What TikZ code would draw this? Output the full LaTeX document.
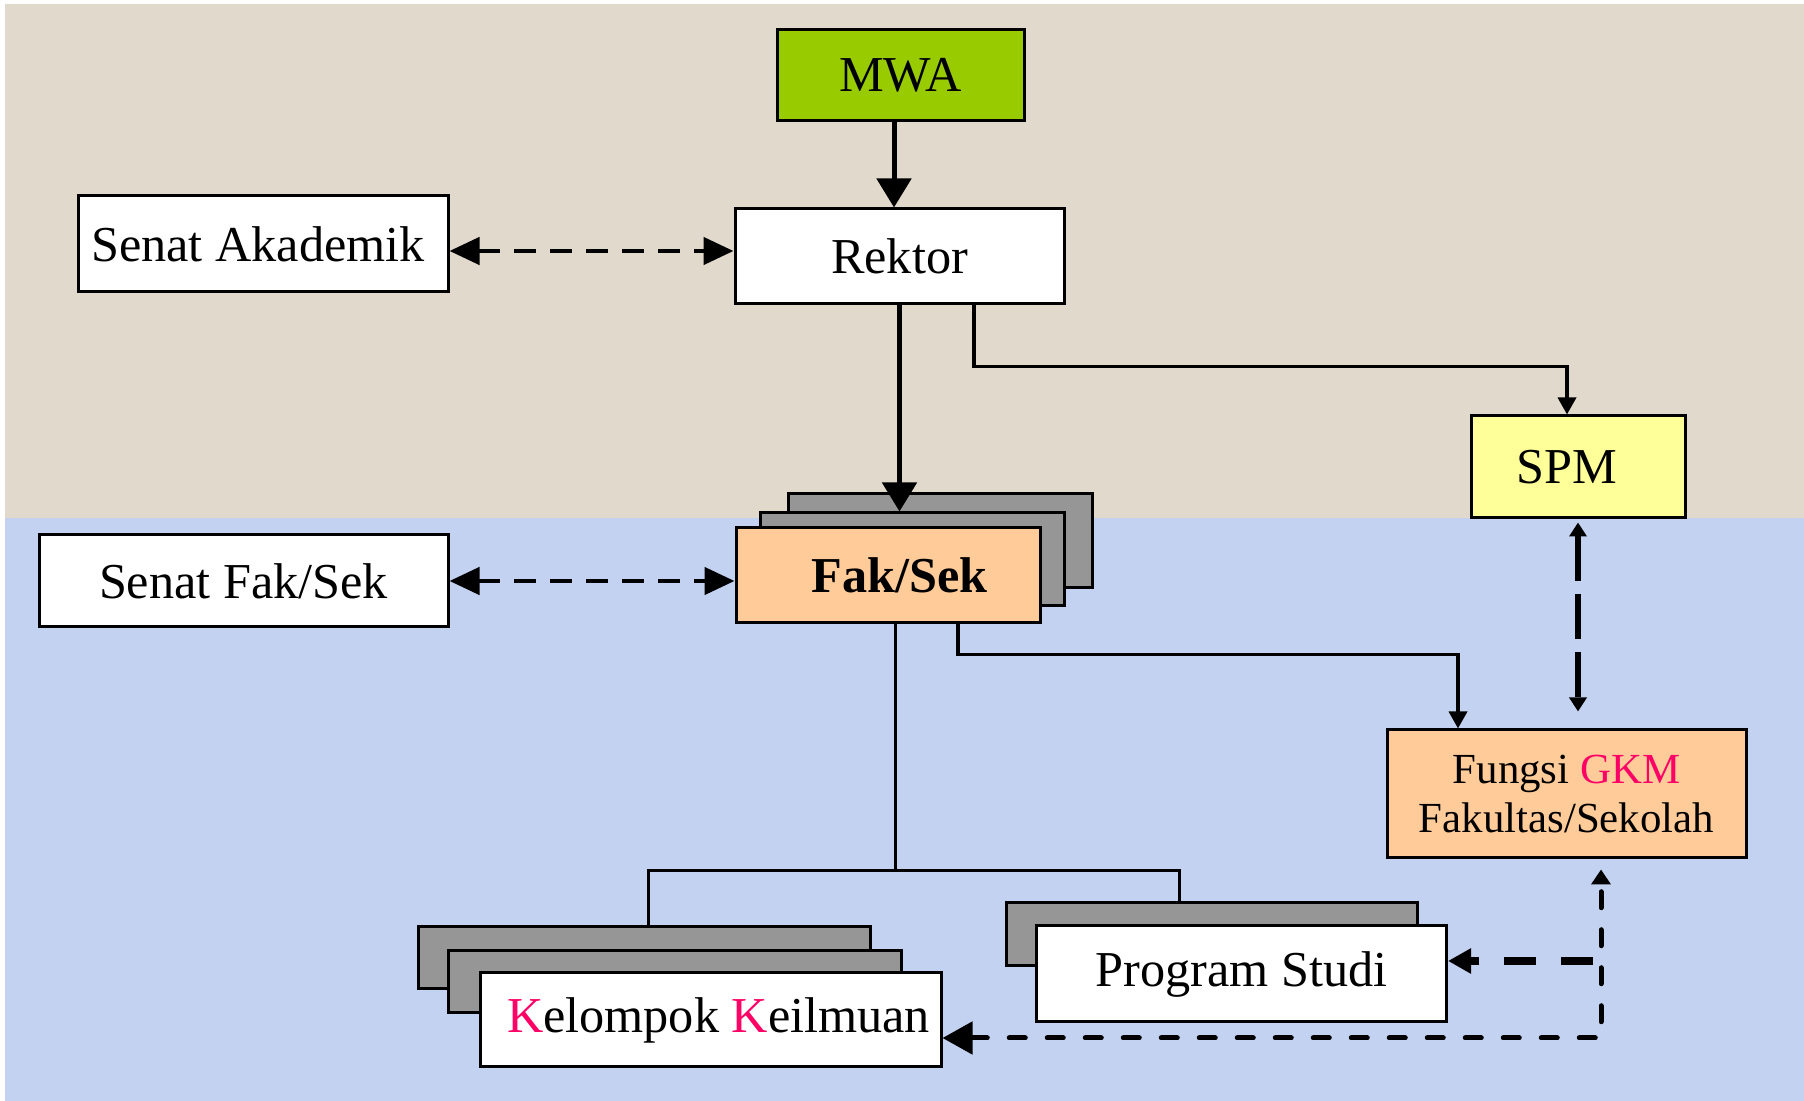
\documentclass[tikz,border=0pt]{standalone}
\usepackage{fontspec}
\setmainfont{Liberation Serif}
\usepackage{xcolor}
\usepackage{tikz}
\usetikzlibrary{arrows.meta,positioning}

\definecolor{bgsand}{HTML}{E1D9CB}
\definecolor{bgsky}{HTML}{C4D2F2}
\definecolor{mwagreen}{HTML}{99CC00}
\definecolor{spmyellow}{HTML}{FFFF99}
\definecolor{fakorange}{HTML}{FFCC99}
\definecolor{stackgray}{HTML}{969696}
\definecolor{gkmpink}{HTML}{FF0066}

\begin{document}
\begin{tikzpicture}[
    unit/.style={rectangle, draw, line width=0.03cm, fill=white, inner sep=0pt, align=center, font=\fontsize{14.3}{17}\selectfont},
    stack/.style={rectangle, draw, line width=0.03cm, fill=stackgray, inner sep=0pt},
    arrow/.style={line width=0.05cm, -{Triangle[length=0.29cm,width=0.34cm]}},
    link/.style={line width=0.035cm, -{Triangle[length=0.17cm,width=0.18cm]}},
    tree/.style={line width=0.03cm},
    coord/.style={line width=0.045cm, dash pattern=on 0.22cm off 0.14cm, {Triangle[length=0.3cm,width=0.27cm]}-{Triangle[length=0.3cm,width=0.27cm]}},
    quality/.style={line width=0.06cm, dash pattern=on 0.45cm off 0.13cm, {Triangle[length=0.14cm,width=0.17cm]}-{Triangle[length=0.14cm,width=0.17cm]}},
    dotlink/.style={line width=0.05cm, line cap=round, dash pattern=on 0.16cm off 0.22cm, {Triangle[length=0.3cm,width=0.32cm]}-{Triangle[length=0.15cm,width=0.19cm]}},
    boldlink/.style={line width=0.08cm, dash pattern=on 0.32cm off 0.25cm, -{Triangle[length=0.23cm,width=0.24cm]}}
]

% Background bands
\fill[bgsand] (0.05,-0.04) rectangle (18.04,-5.18);
\fill[bgsky] (0.05,-5.18) rectangle (18.04,-11.01);
\useasboundingbox (0,0) rectangle (18.04,-11.01);

% University level
\node[unit, fill=mwagreen, minimum width=2.47cm, minimum height=0.91cm] (mwa) at (9.005,-0.755) {MWA};
\node[unit, minimum width=3.29cm, minimum height=0.95cm] (rektor) at (8.995,-2.565) {Rektor};
\node[unit, minimum width=3.70cm, minimum height=0.96cm] (senatak) at (2.63,-2.44) {Senat Akademik\hspace*{0.1cm}};
\node[unit, fill=spmyellow, minimum width=2.14cm, minimum height=1.02cm] (spm) at (15.78,-4.67) {SPM\hspace*{0.23cm}};

% Faculty level
\node[unit, minimum width=4.09cm, minimum height=0.92cm] (senatfak) at (2.435,-5.81) {Senat Fak/Sek};
\node[stack, minimum width=3.04cm, minimum height=0.94cm] (fak2) at (9.40,-5.41) {};
\node[stack, minimum width=3.04cm, minimum height=0.93cm] (fak1) at (9.12,-5.595) {};
\node[unit, fill=fakorange, minimum width=3.04cm, minimum height=0.95cm, font=\fontsize{14.3}{17}\selectfont\bfseries] (fak) at (8.88,-5.755) {\hspace*{0.23cm}Fak/Sek};
\node[unit, fill=fakorange, minimum width=3.59cm, minimum height=1.28cm, font=\fontsize{12.2}{14.2}\selectfont] (gkm) at (15.665,-7.94) {
    Fungsi \textcolor{gkmpink}{GKM}\\
    Fakultas/Sekolah
};

% Study level
\node[stack, minimum width=4.52cm, minimum height=0.62cm] (kk2) at (6.44,-9.58) {};
\node[stack, minimum width=4.53cm, minimum height=0.62cm] (kk1) at (6.745,-9.82) {};
\node[unit, minimum width=4.61cm, minimum height=0.94cm] (kk) at (7.105,-10.20) {\hspace*{0.16cm}\textcolor{gkmpink}{K}elompok \textcolor{gkmpink}{K}eilmuan};
\node[stack, minimum width=4.11cm, minimum height=0.63cm] (ps2) at (12.115,-9.345) {};
\node[unit, minimum width=4.10cm, minimum height=0.96cm] (ps) at (12.415,-9.74) {Program Studi};

% Line of command
\draw[arrow] ([xshift=-0.065cm]mwa.south) -- ([xshift=-0.065cm]mwa.south |- rektor.north);
\draw[arrow] (rektor.south) -- (rektor.south |- fak1.north);
\draw[link] ([xshift=0.745cm]rektor.south) -- ++(0,-0.61) -| ([xshift=-0.11cm]spm.north);
\draw[link] ([xshift=0.70cm]fak.south) -- ++(0,-0.30) -| ([xshift=-1.085cm]gkm.north);

% Senates
\draw[coord] ([yshift=-0.07cm]senatak.east) -- ([yshift=-0.07cm]senatak.east -| rektor.west);
\draw[coord] (senatfak.east) -- (senatfak.east -| fak.west);

% Quality assurance
\draw[quality] ([yshift=-0.03cm]spm.south) -- ([yshift=0.17cm]spm.south |- gkm.north);
\coordinate (gkmdrop) at ([xshift=0.345cm]gkm.south);
\draw[dotlink] ([yshift=-0.18cm]kk.east) -| ([yshift=-0.1cm]gkmdrop);
\draw[boldlink] ([xshift=-0.08cm,yshift=0.13cm]ps.east -| gkmdrop) -- ([yshift=0.13cm]ps.east);

% Faculty tree
\draw[tree] ([xshift=0.07cm]fak.south) -- ++(0,-2.46) coordinate (hub);
\draw[tree] ([xshift=0.04cm]kk2.north) |- (hub) -| ([xshift=-0.325cm]ps2.north);

\end{tikzpicture}
\end{document}
